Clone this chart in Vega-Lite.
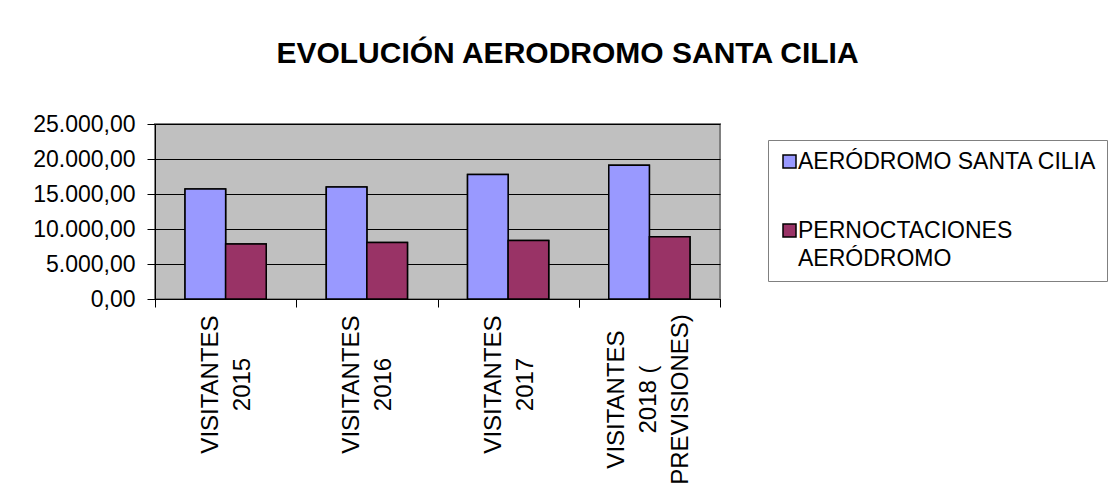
{
  "$schema": "https://vega.github.io/schema/vega-lite/v6.json",
  "width": 565,
  "height": 175,
  "autosize": {"type": "none"},
  "padding": {"left": 155, "top": 124, "right": 390, "bottom": 203},
  "background": "white",
  "title": {
    "text": "EVOLUCIÓN AERODROMO SANTA CILIA",
    "font": "Liberation Sans",
    "fontSize": 30,
    "fontWeight": "bold",
    "color": "black",
    "anchor": "middle",
    "dx": 130,
    "offset": 44
  },
  "data": {
    "values": [
      {"categoria": "VISITANTES 2015", "serie": "AERÓDROMO SANTA CILIA", "valor": 15700},
      {"categoria": "VISITANTES 2015", "serie": "PERNOCTACIONES AERÓDROMO", "valor": 7850},
      {"categoria": "VISITANTES 2016", "serie": "AERÓDROMO SANTA CILIA", "valor": 16000},
      {"categoria": "VISITANTES 2016", "serie": "PERNOCTACIONES AERÓDROMO", "valor": 8080},
      {"categoria": "VISITANTES 2017", "serie": "AERÓDROMO SANTA CILIA", "valor": 17800},
      {"categoria": "VISITANTES 2017", "serie": "PERNOCTACIONES AERÓDROMO", "valor": 8370},
      {"categoria": "VISITANTES 2018 ( PREVISIONES)", "serie": "AERÓDROMO SANTA CILIA", "valor": 19100},
      {"categoria": "VISITANTES 2018 ( PREVISIONES)", "serie": "PERNOCTACIONES AERÓDROMO", "valor": 8890}
    ]
  },
  "encoding": {
    "xOffset": {
      "field": "serie",
      "type": "nominal",
      "scale": {"paddingInner": 0, "paddingOuter": 0.74}
    },
    "y": {
      "field": "valor",
      "type": "quantitative",
      "scale": {"domain": [0, 25000], "nice": false},
      "axis": {
        "title": null,
        "values": [0, 5000, 10000, 15000, 20000, 25000],
        "format": ",.2f",
        "domainColor": "black",
        "tickColor": "black",
        "tickSize": 8,
        "gridColor": "black",
        "gridWidth": 1,
        "labelFont": "Liberation Sans",
        "labelFontSize": 23,
        "labelColor": "black",
        "labelPadding": 12
      }
    },
    "color": {
      "field": "serie",
      "type": "nominal",
      "scale": {"domain": ["AERÓDROMO SANTA CILIA", "PERNOCTACIONES AERÓDROMO"], "range": ["#9999FF", "#993366"]},
      "legend": {
        "title": null,
        "orient": "none",
        "legendX": 613,
        "legendY": 16,
        "strokeColor": "#808080",
        "fillColor": "white",
        "padding": 10,
        "symbolType": "square",
        "symbolSize": 169,
        "symbolStrokeColor": "black",
        "symbolStrokeWidth": 1.5,
        "labelFont": "Liberation Sans",
        "labelFontSize": 23,
        "labelColor": "black",
        "labelOffset": -3,
        "labelLimit": 400,
        "rowPadding": 45,
        "labelExpr": "indexof(datum.label,'PERNOCTACIONES')==0 ? split(datum.label,' ') : datum.label"
      }
    }
  },
  "layer": [
    {
      "mark": {"type": "bar", "stroke": "black", "strokeWidth": 1.5},
      "encoding": {
        "x": {
          "field": "categoria",
          "type": "nominal",
          "sort": null,
          "scale": {"paddingInner": 0, "paddingOuter": 0},
          "axis": {
            "title": null,
            "orient": "bottom",
            "values": ["VISITANTES 2015", "VISITANTES 2016", "VISITANTES 2017"],
            "tickBand": "extent",
            "domainColor": "black",
            "tickColor": "black",
            "tickSize": 8,
            "labelAngle": -90,
            "labelAlign": "center",
            "labelBaseline": "top",
            "labelOffset": -27,
            "labelFont": "Liberation Sans",
            "labelFontSize": 24,
            "labelColor": "black",
            "labelLineHeight": 32,
            "labelPadding": 77,
            "labelExpr": "split(datum.label,' ')"
          }
        }
      }
    },
    {
      "mark": {"type": "bar", "stroke": "black", "strokeWidth": 1.5},
      "encoding": {
        "x": {
          "field": "categoria",
          "type": "nominal",
          "sort": null,
          "scale": {"paddingInner": 0, "paddingOuter": 0},
          "axis": {
            "title": null,
            "orient": "bottom",
            "values": ["VISITANTES 2018 ( PREVISIONES)"],
            "tickBand": "extent",
            "domainColor": "black",
            "tickColor": "black",
            "tickSize": 8,
            "labelAngle": -90,
            "labelAlign": "center",
            "labelBaseline": "alphabetic",
            "labelOffset": -26,
            "labelFont": "Liberation Sans",
            "labelFontSize": 24,
            "labelColor": "black",
            "labelLineHeight": 32,
            "labelPadding": 92,
            "labelExpr": "datum.label == 'VISITANTES 2018 ( PREVISIONES)' ? ['VISITANTES','2018 (','PREVISIONES)'] : ''"
          }
        }
      }
    }
  ],
  "resolve": {"axis": {"x": "independent"}},
  "config": {
    "locale": {"number": {"decimal": ",", "thousands": ".", "grouping": [3], "currency": ["", " €"]}},
    "view": {"fill": "#C0C0C0", "stroke": "#808080", "strokeWidth": 2},
    "axis": {"gridOpacity": 1, "domainWidth": 1, "tickWidth": 1},
    "style": {"guide-label": {"lineHeight": 28}}
  }
}
